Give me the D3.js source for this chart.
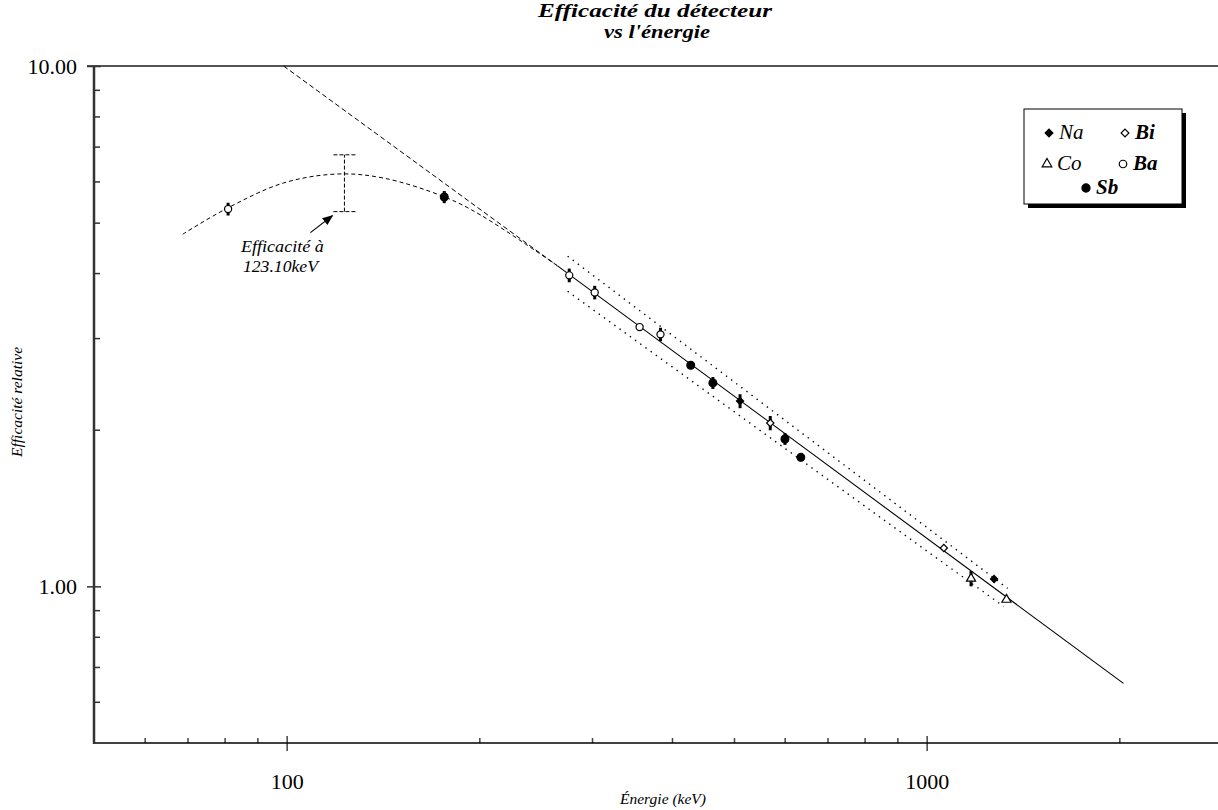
<!DOCTYPE html>
<html>
<head>
<meta charset="utf-8">
<script src="https://cdn.jsdelivr.net/npm/d3@7"></script>
<style>
  body { margin: 0; background: #fff; }
  svg { display: block; font-family: "Liberation Serif", "Times New Roman", serif; }
</style>
</head>
<body>
<div id="chart"></div>
<script>
// measured points per source: [energy keV, relative efficiency, error]
const naPoints = [[511.0, 2.27, 0.07], [1274.5, 1.033, 0]];
const biPoints = [[569.7, 2.06, 0.065], [1063.7, 1.185, 0]];
const coPoints = [[1173.2, 1.035, 0.035], [1332.5, 0.943, 0]];
const baPoints = [[81.0, 5.31, 0.15], [276.4, 3.96, 0.12], [302.9, 3.67, 0.11], [356.0, 3.15, 0], [383.8, 3.05, 0.09]];
const sbPoints = [[176.3, 5.60, 0.15], [427.9, 2.66, 0], [463.4, 2.46, 0.065], [600.6, 1.92, 0.05], [635.9, 1.77, 0.03]];

// low energy fit (dashed curve)
const curvePoints = [[68.8, 4.75], [80.3, 5.31], [98.9, 5.96], [120.1, 6.20], [141.7, 6.09], [176.6, 5.60], [201, 5.17], [265, 4.13]];
// log-log linear fit, extrapolated part is dashed
const fitExtrapolated = [[98.9, 10.0], [265, 4.13]];
const fitLine = [[265, 4.13], [2030, 0.651]];
// confidence band (dotted)
const bandUpper = [[274.8, 4.31], [1338, 0.991]];
const bandLower = [[274.8, 3.69], [1319, 0.915]];

// interpolated efficiency at 123.10 keV
const annotEnergy = 123.1;
const annotRange = [5.25, 6.75];

// ticks
const xMajor = [100, 1000];
const xMinor = [60, 70, 80, 90, 200, 300, 400, 500, 600, 700, 800, 900, 2000, 3000];
const yMajor = [1, 10];
const yMinor = [0.6, 0.7, 0.8, 0.9, 2, 3, 4, 5, 6, 7, 8, 9];

const width = 1218, height = 810;
const plotLeft = 94, plotTop = 66, plotBottom = 743;
const pxPerDecade = 640;

const svg = d3.select("#chart").append("svg")
    .attr("width", width)
    .attr("height", height);

svg.append("rect").attr("width", width).attr("height", height).attr("fill", "#fff");

const x = d3.scaleLog().domain([50, 3000]).range([plotLeft, plotLeft + pxPerDecade * Math.log10(3000 / 50)]);
const y = d3.scaleLog().domain([0.5, 10]).range([plotBottom, plotTop]);

// top frame line
svg.append("line")
    .attr("x1", plotLeft - 7).attr("x2", width)
    .attr("y1", y(10)).attr("y2", y(10))
    .attr("stroke", "#555").attr("stroke-width", 2);

// x axis
const xAxisG = svg.append("g").attr("transform", `translate(0,${plotBottom})`);
xAxisG.append("g")
    .call(d3.axisBottom(x).tickValues(xMinor).tickSize(-5).tickSizeOuter(0).tickFormat(""))
    .call(g => g.select(".domain").remove());
xAxisG.append("g")
    .call(d3.axisBottom(x).tickValues(xMajor).tickSize(-7).tickSizeOuter(0).tickFormat(""))
    .call(g => g.select(".domain").remove());
xAxisG.append("g")
    .call(d3.axisBottom(x).tickValues(xMajor).tickSize(8).tickSizeOuter(0).tickPadding(22).tickFormat(d3.format("d")))
    .call(g => g.select(".domain").remove())
    .call(g => g.selectAll("text").attr("font-size", 22).attr("font-family", "Liberation Serif").attr("fill", "#000"));
xAxisG.selectAll(".tick line").attr("stroke", "#444").attr("stroke-width", 1.5);
xAxisG.append("line")
    .attr("x1", plotLeft).attr("x2", width)
    .attr("stroke", "#000").attr("stroke-width", 1.6);

// y axis
const yAxisG = svg.append("g").attr("transform", `translate(${plotLeft},0)`);
yAxisG.append("g")
    .call(d3.axisLeft(y).tickValues(yMinor).tickSize(-6).tickSizeOuter(0).tickFormat(""))
    .call(g => g.select(".domain").remove());
yAxisG.append("g")
    .call(d3.axisLeft(y).tickValues(yMajor).tickSize(-7).tickSizeOuter(0).tickFormat(""))
    .call(g => g.select(".domain").remove());
yAxisG.append("g")
    .call(d3.axisLeft(y).tickValues(yMajor).tickSize(7).tickSizeOuter(0).tickPadding(10).tickFormat(d3.format(".2f")))
    .call(g => g.select(".domain").remove())
    .call(g => g.selectAll("text").attr("font-size", 22).attr("font-family", "Liberation Serif").attr("fill", "#000"));
yAxisG.selectAll(".tick line").attr("stroke", "#333").attr("stroke-width", 1.5);
yAxisG.append("line")
    .attr("y1", plotTop).attr("y2", plotBottom + 1)
    .attr("stroke", "#333").attr("stroke-width", 2.5);

// titles
svg.append("text")
    .attr("x", 655).attr("y", 17)
    .attr("text-anchor", "middle")
    .attr("font-size", 18).attr("font-weight", "bold").attr("font-style", "italic")
    .attr("textLength", 234).attr("lengthAdjust", "spacingAndGlyphs")
    .text("Efficacité du détecteur");
svg.append("text")
    .attr("x", 657).attr("y", 38)
    .attr("text-anchor", "middle")
    .attr("font-size", 18).attr("font-weight", "bold").attr("font-style", "italic")
    .attr("textLength", 106).attr("lengthAdjust", "spacingAndGlyphs")
    .text("vs l'énergie");
svg.append("text")
    .attr("transform", "translate(22,402) rotate(-90)")
    .attr("text-anchor", "middle")
    .attr("font-size", 14).attr("font-style", "italic")
    .attr("textLength", 110).attr("lengthAdjust", "spacingAndGlyphs")
    .text("Efficacité relative");
svg.append("text")
    .attr("x", 663).attr("y", 804)
    .attr("text-anchor", "middle")
    .attr("font-size", 14).attr("font-style", "italic")
    .attr("textLength", 86).attr("lengthAdjust", "spacingAndGlyphs")
    .text("Énergie (keV)");

const line = d3.line().x(d => x(d[0])).y(d => y(d[1]));

// fits
svg.append("path")
    .attr("d", line.curve(d3.curveCatmullRom)(curvePoints))
    .attr("fill", "none").attr("stroke", "#000").attr("stroke-width", 1)
    .attr("stroke-dasharray", "4,3");
line.curve(d3.curveLinear);
svg.append("path")
    .attr("d", line(fitExtrapolated))
    .attr("fill", "none").attr("stroke", "#000").attr("stroke-width", 1)
    .attr("stroke-dasharray", "5,3");
svg.append("path")
    .attr("d", line(fitLine))
    .attr("fill", "none").attr("stroke", "#000").attr("stroke-width", 1.1);
[bandUpper, bandLower].forEach(b => {
    svg.append("path")
        .attr("d", line(b))
        .attr("fill", "none").attr("stroke", "#000").attr("stroke-width", 1.4)
        .attr("stroke-dasharray", "1.4,5");
});

// annotation error bar at 123.10 keV
const annot = svg.append("g").attr("stroke", "#000").attr("stroke-width", 1).attr("stroke-dasharray", "4,2");
annot.append("line")
    .attr("x1", x(annotEnergy)).attr("x2", x(annotEnergy))
    .attr("y1", y(annotRange[0])).attr("y2", y(annotRange[1]));
annotRange.forEach(v => {
    annot.append("line")
        .attr("x1", x(annotEnergy) - 11).attr("x2", x(annotEnergy) + 11)
        .attr("y1", y(v)).attr("y2", y(v));
});

// arrow
svg.append("defs").append("marker")
    .attr("id", "arrow")
    .attr("viewBox", "0 0 10 10")
    .attr("refX", 9).attr("refY", 5)
    .attr("markerWidth", 9).attr("markerHeight", 9)
    .attr("orient", "auto")
    .append("path").attr("d", "M0,1 L10,5 L0,9 Z").attr("fill", "#000");
svg.append("line")
    .attr("x1", x(annotEnergy) - 34).attr("y1", y(annotRange[0]) + 21)
    .attr("x2", x(annotEnergy) - 12).attr("y2", y(annotRange[0]) + 4)
    .attr("stroke", "#000").attr("stroke-width", 1.2)
    .attr("marker-end", "url(#arrow)");
svg.append("text")
    .attr("x", x(annotEnergy) - 62).attr("y", y(annotRange[0]) + 40)
    .attr("text-anchor", "middle")
    .attr("font-size", 16).attr("font-style", "italic")
    .attr("textLength", 83).attr("lengthAdjust", "spacingAndGlyphs")
    .text("Efficacité à");
svg.append("text")
    .attr("x", x(annotEnergy) - 64).attr("y", y(annotRange[0]) + 60)
    .attr("text-anchor", "middle")
    .attr("font-size", 16).attr("font-style", "italic")
    .attr("textLength", 75).attr("lengthAdjust", "spacingAndGlyphs")
    .text("123.10keV");

// markers (diamonds are rotated squares)
const sources = [
    {name: "Na", points: naPoints, symbol: d3.symbolSquare, size: 26, rotate: 45, fill: "#000"},
    {name: "Bi", points: biPoints, symbol: d3.symbolSquare, size: 26, rotate: 45, fill: "#fff"},
    {name: "Co", points: coPoints, symbol: d3.symbolTriangle, size: 36, rotate: 0, fill: "#fff"},
    {name: "Ba", points: baPoints, symbol: d3.symbolCircle, size: 40, rotate: 0, fill: "#fff"},
    {name: "Sb", points: sbPoints, symbol: d3.symbolCircle, size: 48, rotate: 0, fill: "#000"}
];

sources.forEach(s => {
    const g = svg.append("g");
    g.selectAll(".err")
        .data(s.points.filter(p => p[2] > 0))
        .enter().append("line")
        .attr("x1", d => x(d[0])).attr("x2", d => x(d[0]))
        .attr("y1", d => y(d[1] - d[2])).attr("y2", d => y(d[1] + d[2]))
        .attr("stroke", "#000").attr("stroke-width", 3);
    g.selectAll(".pt")
        .data(s.points)
        .enter().append("path")
        .attr("transform", d => `translate(${x(d[0])},${y(d[1])}) rotate(${s.rotate})`)
        .attr("d", d3.symbol().type(s.symbol).size(s.size))
        .attr("fill", s.fill)
        .attr("stroke", "#000").attr("stroke-width", 1.2);
});

// legend
const legend = svg.append("g").attr("transform", "translate(1024,109)");
legend.append("rect")
    .attr("x", 4).attr("y", 4).attr("width", 158).attr("height", 95)
    .attr("fill", "#000");
legend.append("rect")
    .attr("width", 158).attr("height", 95)
    .attr("fill", "#fff").attr("stroke", "#000").attr("stroke-width", 1);

const legendPos = [[25, 24], [101, 24], [23, 55], [99, 55], [62, 79]];
sources.forEach((s, i) => {
    const [lx, ly] = legendPos[i];
    legend.append("path")
        .attr("transform", `translate(${lx},${ly}) rotate(${s.rotate})`)
        .attr("d", d3.symbol().type(s.symbol).size(s.size + 4))
        .attr("fill", s.fill)
        .attr("stroke", "#000").attr("stroke-width", 1.2);
    legend.append("text")
        .attr("x", lx + 10).attr("y", ly + 6)
        .attr("font-size", 21).attr("font-style", "italic")
        .attr("font-weight", s.name === "Bi" || s.name === "Ba" || s.name === "Sb" ? "bold" : "normal")
        .text(s.name);
});
</script>
</body>
</html>
